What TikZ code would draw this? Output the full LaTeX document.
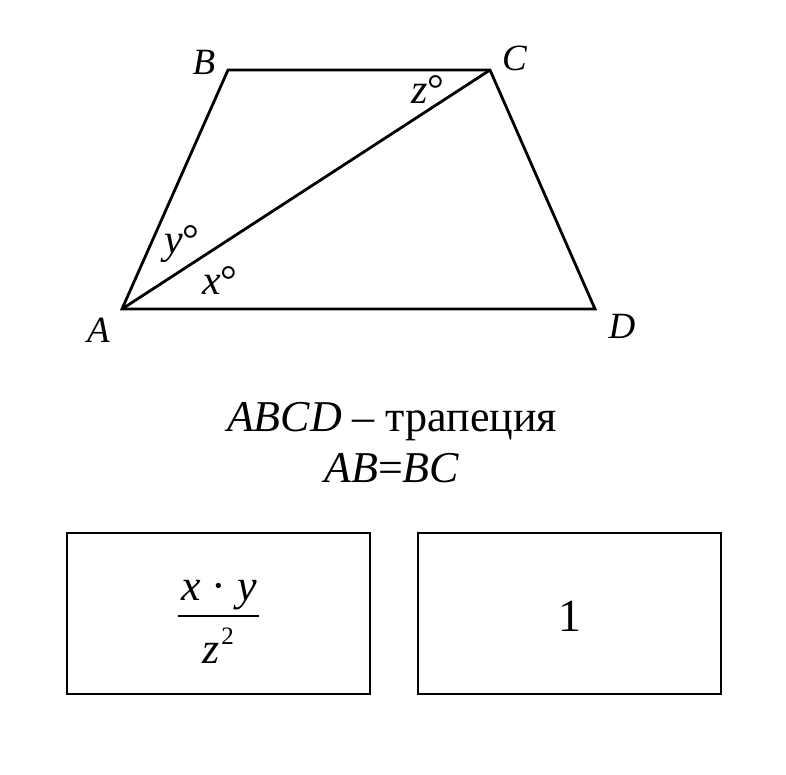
\documentclass[tikz,border=0pt]{standalone}
\usepackage{fontspec}
\setmainfont{Liberation Serif}
\usetikzlibrary{positioning}

\tikzset{
  side/.style={line width=2.8pt, line join=miter},
  vname/.style={font=\fontsize{37}{42}\selectfont\itshape, inner sep=0pt},
  angname/.style={font=\fontsize{42}{46}\selectfont, inner sep=0pt},
  caption/.style={font=\fontsize{44}{50}\selectfont, inner sep=0pt},
  fracpart/.style={font=\fontsize{44}{48}\selectfont, inner sep=0pt, anchor=base},
  answerbox/.style={draw, line width=1.8pt, minimum width=303pt, minimum height=161pt,
    inner sep=0pt, font=\fontsize{46}{50}\selectfont}
}

\begin{document}
\begin{tikzpicture}[x=1pt,y=-1pt]

\useasboundingbox (0,0) rectangle (786,774);

% Vertices
\coordinate (A) at (122,309);
\coordinate (B) at (228,70);
\coordinate (C) at (490,70);
\coordinate (D) at (595,309);

% Trapezoid and diagonal
\draw[side] (A) -- (B) -- (C) -- (D) -- cycle;
\draw[side] (A) -- (C);

% Vertex names
\node[vname] (labA) at (98.5,330) {A};
\node[vname] (labB) at (204,62.5) {B};
\node[vname] (labC) at (514.5,58.5) {C};
\node[vname] (labD) at (622,326.5) {D};

% Angles
\node[angname] (angy) at (182,244) {\textit{y}°};
\node[angname] (angx) at (220,281) {\textit{x}°};
\node[angname] (angz) at (428,90) {\textit{z}°};

% Condition
\node[caption] (cond1) at (392,422) {\textit{ABCD} – трапеция};
\node[caption] (cond2) at (392,468) {\textit{AB}=\textit{BC}};

% Answer boxes
\node[answerbox] (boxL) at (218.5,613.5) {};
\node[answerbox] (boxR) at (569.5,613.5) {};

% Fraction
\node[fracpart] (num) at (219,600) {\textit{x} · \textit{y}};
\node[fracpart] (den) at (218,663) {\textit{z}\hspace{2pt}\raisebox{19pt}{\fontsize{25}{27}\selectfont 2}};
\draw[line width=1.8pt] (178,616) -- (259,616);

\node[fracpart, font=\fontsize{46}{50}\selectfont, anchor=center] (one) at (569.5,616.5) {1};

\end{tikzpicture}
\end{document}
